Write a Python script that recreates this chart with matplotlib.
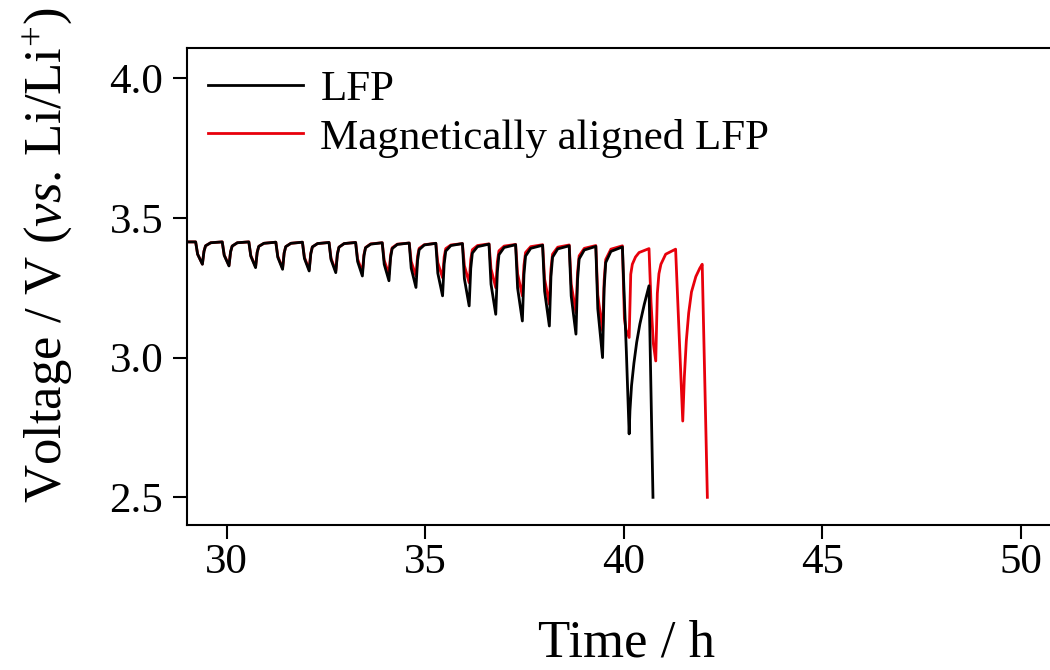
import matplotlib.pyplot as plt

plt.rcParams['font.family'] = ['Liberation Serif', 'DejaVu Serif']
plt.rcParams['mathtext.fontset'] = 'custom'
plt.rcParams['mathtext.rm'] = 'Liberation Serif'
plt.rcParams['mathtext.it'] = 'Liberation Serif:italic'

# GITT discharge curves (time in h, voltage in V)
lfp_t = [29.0,
         29.22, 29.27, 29.39, 29.43, 29.47, 29.60,
         29.89, 29.94, 30.06, 30.10, 30.14, 30.27,
         30.56, 30.61, 30.73, 30.77, 30.81, 30.94,
         31.24, 31.29, 31.41, 31.45, 31.49, 31.62,
         31.91, 31.96, 32.08, 32.12, 32.16, 32.29,
         32.58, 32.63, 32.75, 32.79, 32.83, 32.96,
         33.25, 33.30, 33.42, 33.46, 33.50, 33.63,
         33.92, 33.97, 34.09, 34.13, 34.17, 34.30,
         34.60, 34.65, 34.77, 34.81, 34.85, 34.98,
         35.27, 35.32, 35.44, 35.48, 35.52, 35.65,
         35.94, 35.99, 36.11, 36.15, 36.19, 36.32,
         36.61, 36.66, 36.78, 36.82, 36.86, 36.99,
         37.28, 37.33, 37.45, 37.49, 37.53, 37.66,
         37.96, 38.01, 38.13, 38.17, 38.21, 38.34,
         38.63, 38.68, 38.80, 38.84, 38.88, 39.01,
         39.30, 39.35, 39.47, 39.51, 39.55, 39.68,
         39.97, 40.00, 40.07, 40.14, 40.16, 40.20, 40.26, 40.33, 40.41,
         40.52, 40.64, 40.74]
lfp_v = [3.414,
         3.414, 3.370, 3.334, 3.380, 3.400, 3.411,
         3.414, 3.366, 3.328, 3.378, 3.399, 3.411,
         3.414, 3.363, 3.322, 3.376, 3.398, 3.409,
         3.413, 3.359, 3.316, 3.374, 3.397, 3.409,
         3.413, 3.355, 3.310, 3.371, 3.396, 3.408,
         3.412, 3.351, 3.304, 3.369, 3.395, 3.408,
         3.412, 3.344, 3.292, 3.364, 3.393, 3.406,
         3.411, 3.334, 3.275, 3.357, 3.390, 3.405,
         3.410, 3.320, 3.251, 3.347, 3.386, 3.403,
         3.409, 3.302, 3.221, 3.335, 3.381, 3.401,
         3.408, 3.282, 3.185, 3.319, 3.374, 3.397,
         3.406, 3.263, 3.155, 3.307, 3.368, 3.394,
         3.404, 3.249, 3.131, 3.297, 3.363, 3.391,
         3.402, 3.238, 3.113, 3.290, 3.359, 3.389,
         3.400, 3.221, 3.084, 3.278, 3.353, 3.385,
         3.398, 3.175, 3.000, 3.248, 3.340, 3.380,
         3.396, 3.280, 3.020, 2.727, 2.810, 2.900, 2.980, 3.055, 3.120,
         3.190, 3.257, 2.500]

mag_t = [29.0,
         29.22, 29.27, 29.39, 29.43, 29.47, 29.60,
         29.89, 29.94, 30.06, 30.10, 30.14, 30.27,
         30.56, 30.61, 30.73, 30.77, 30.81, 30.94,
         31.24, 31.29, 31.41, 31.45, 31.49, 31.62,
         31.91, 31.96, 32.08, 32.12, 32.16, 32.29,
         32.58, 32.63, 32.75, 32.79, 32.83, 32.96,
         33.25, 33.30, 33.42, 33.46, 33.50, 33.63,
         33.92, 33.97, 34.09, 34.13, 34.17, 34.30,
         34.60, 34.65, 34.77, 34.81, 34.85, 34.98,
         35.27, 35.32, 35.44, 35.48, 35.52, 35.65,
         35.94, 35.99, 36.11, 36.15, 36.19, 36.32,
         36.61, 36.66, 36.78, 36.82, 36.86, 36.99,
         37.28, 37.33, 37.45, 37.49, 37.53, 37.66,
         37.96, 38.01, 38.13, 38.17, 38.21, 38.34,
         38.63, 38.68, 38.80, 38.84, 38.88, 39.01,
         39.30, 39.35, 39.47, 39.51, 39.55, 39.68,
         39.97, 40.02, 40.06, 40.14, 40.18, 40.22, 40.30, 40.39, 40.64,
         40.69, 40.75, 40.81, 40.85, 40.89, 40.94, 41.06, 41.31,
         41.40, 41.49, 41.53, 41.58, 41.64, 41.71, 41.82, 41.92, 41.98, 42.11]
mag_v = [3.414,
         3.414, 3.370, 3.335, 3.381, 3.400, 3.411,
         3.414, 3.367, 3.330, 3.379, 3.399, 3.411,
         3.414, 3.365, 3.325, 3.377, 3.398, 3.409,
         3.413, 3.362, 3.320, 3.375, 3.397, 3.409,
         3.413, 3.359, 3.315, 3.373, 3.396, 3.408,
         3.412, 3.356, 3.310, 3.371, 3.395, 3.408,
         3.412, 3.353, 3.305, 3.369, 3.394, 3.407,
         3.411, 3.348, 3.298, 3.366, 3.393, 3.406,
         3.410, 3.344, 3.292, 3.363, 3.391, 3.404,
         3.409, 3.340, 3.286, 3.360, 3.390, 3.403,
         3.408, 3.329, 3.268, 3.351, 3.386, 3.401,
         3.407, 3.318, 3.250, 3.343, 3.382, 3.399,
         3.405, 3.300, 3.221, 3.330, 3.376, 3.397,
         3.404, 3.281, 3.191, 3.317, 3.370, 3.395,
         3.403, 3.263, 3.161, 3.304, 3.364, 3.391,
         3.401, 3.224, 3.096, 3.276, 3.351, 3.388,
         3.400, 3.140, 3.100, 3.072, 3.298, 3.334, 3.360, 3.376, 3.390,
         3.200, 3.050, 2.988, 3.230, 3.300, 3.334, 3.370, 3.388,
         3.080, 2.773, 2.930, 3.060, 3.160, 3.235, 3.290, 3.320, 3.334, 2.500]

x_ticks = [30, 35, 40, 45, 50]
y_ticks = [2.5, 3.0, 3.5, 4.0]

fig = plt.figure(figsize=(10.5, 6.7), dpi=100)
ax = fig.add_axes([0.178, 0.216, 0.8318, 0.712])

l2, = ax.plot(mag_t, mag_v, color='#e8000b', lw=2.0, zorder=2,
              label='Magnetically aligned LFP')
l1, = ax.plot(lfp_t, lfp_v, color='black', lw=2.0, zorder=3, label='LFP')

ax.set_xlim(29.0, 51.0)
ax.set_ylim(2.4, 4.107)
ax.set_xticks(x_ticks)
ax.set_yticks(y_ticks)
ax.set_yticklabels(['%.1f' % v for v in y_ticks])
ax.tick_params(direction='out', length=10, width=1.5, labelsize=31)
ax.tick_params(axis='x', pad=3)
ax.tick_params(axis='y', pad=7)
for s in ax.spines.values():
    s.set_linewidth(1.5)

ax.set_xlabel('Time / h', fontsize=38)
ax.set_ylabel(r'Voltage / V ($\mathit{vs}$. Li/Li$^{+}$)', fontsize=38)
ax.xaxis.set_label_coords(0.503, -0.198)
ax.yaxis.set_label_coords(-0.128, 0.566)

ax.legend(handles=[l1, l2], loc='upper left', frameon=False, fontsize=31,
          handlelength=2.2, handletextpad=0.4, labelspacing=0.22,
          borderaxespad=0.1, bbox_to_anchor=(0.0, 1.0))

fig.savefig('out.png', dpi=100)
